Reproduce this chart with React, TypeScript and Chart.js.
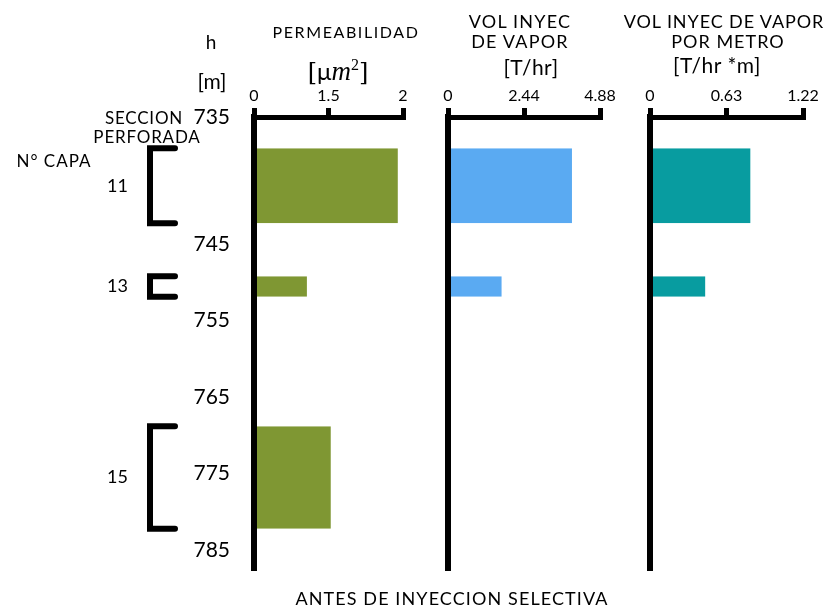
import React, { useEffect, useRef } from 'react';
import { Chart, registerables } from 'chart.js';

Chart.register(...registerables);

// ---------- data ----------
const layerNames = ['11', '13', '15'];
const layerTop = [732.5, 749.2, 768.8];
const layerBottom = [742.3, 751.9, 782.2];

const permeability = [1.93, 0.71, 1.03];
const vaporRate = [3.98, 1.72, 0];
const vaporPerMeter = [0.8, 0.44, 0];

const permMax = 2;
const vaporMax = 4.88;
const perMeterMax = 1.22;
const permTickLabels = ['0', '1.5', '2'];
const vaporTickLabels = ['0', '2.44', '4.88'];
const perMeterTickLabels = ['0', '0.63', '1.22'];

const depthMin = 728.4;
const depthMax = 787.6;
const depthTickLabels = ['735', '745', '755', '765', '775', '785'];

const FONT = 'Lato, "Open Sans", sans-serif';

const bracketPlugin = {
  id: 'layerBrackets',
  afterDraw(chart: any) {
    const y = chart.scales.y;
    const ctx = chart.ctx;
    ctx.save();
    ctx.strokeStyle = '#000';
    ctx.fillStyle = '#000';
    ctx.lineWidth = 6;
    ctx.lineCap = 'round';
    ctx.lineJoin = 'miter';
    layerNames.forEach((name, i) => {
      const t = y.getPixelForValue(layerTop[i]);
      const b = y.getPixelForValue(layerBottom[i]);
      ctx.beginPath();
      ctx.moveTo(175, t);
      ctx.lineTo(150, t);
      ctx.lineTo(150, b);
      ctx.lineTo(175, b);
      ctx.stroke();
      ctx.font = '18px ' + FONT;
      ctx.textAlign = 'right';
      ctx.textBaseline = 'middle';
      ctx.fillText(name, 128, (t + b) / 2);
    });
    ctx.restore();
  },
};

type PanelProps = {
  left: number;
  width: number;
  padLeft: number;
  padRight: number;
  yWidth: number;
  showDepth: boolean;
  values: number[];
  max: number;
  tickLabels: string[];
  color: string;
};

function Panel(p: PanelProps) {
  const ref = useRef<HTMLCanvasElement | null>(null);
  useEffect(() => {
    if (!ref.current) return;
    const datasets = layerNames
      .map((name, i) => ({
        label: name,
        data: [
          { x: p.values[i], y: layerTop[i] },
          { x: p.values[i], y: layerBottom[i] },
        ],
        fill: 'origin',
        backgroundColor: p.color,
        borderColor: 'rgba(0,0,0,0)',
        borderWidth: 0,
        pointRadius: 0,
        tension: 0,
        v: p.values[i],
      }))
      .filter((d) => d.v > 0);

    const chart = new Chart(ref.current, {
      type: 'line',
      data: { datasets: datasets as any },
      options: {
        animation: false,
        responsive: false,
        maintainAspectRatio: false,
        indexAxis: 'y',
        layout: { padding: { left: p.padLeft, right: p.padRight, top: 77, bottom: 37 } },
        plugins: { legend: { display: false }, tooltip: { enabled: false } },
        scales: {
          x: {
            type: 'linear',
            position: 'top',
            min: 0,
            max: p.max,
            afterBuildTicks: (s: any) => {
              s.ticks = [0, p.max / 2, p.max].map((v) => ({ value: v }));
            },
            afterFit: (s: any) => {
              s.height = 40;
            },
            ticks: {
              autoSkip: false,
              maxRotation: 0,
              padding: 3,
              color: '#000',
              font: { family: FONT, size: 16 },
              callback: (_v: any, i: number) => p.tickLabels[i],
            },
            grid: {
              display: true,
              drawOnChartArea: false,
              drawTicks: true,
              tickLength: 9,
              color: '#000',
              lineWidth: 5,
            },
            border: { display: true, color: '#000', width: 5, z: 1 },
          },
          y: {
            type: 'linear',
            reverse: true,
            min: depthMin,
            max: depthMax,
            afterBuildTicks: (s: any) => {
              s.ticks = depthTickLabels.map((l, i) => ({ value: i === 0 ? depthMin : Number(l) }));
            },
            afterFit: (s: any) => {
              s.width = p.yWidth;
            },
            ticks: {
              display: p.showDepth,
              autoSkip: false,
              padding: 16,
              color: '#000',
              font: { family: FONT, size: 21 },
              callback: (_v: any, i: number) => depthTickLabels[i],
            },
            grid: { display: false },
            border: { display: true, color: '#000', width: 6, z: 1 },
          },
        },
      } as any,
      plugins: p.showDepth ? [bracketPlugin] : [],
    });
    return () => chart.destroy();
  }, []);
  return (
    <canvas
      ref={ref}
      width={p.width}
      height={607}
      style={{ position: 'absolute', left: p.left, top: 0, width: p.width, height: 607 }}
    />
  );
}

function Label(props: { x: number; y: number; size: number; children: any; spacing?: number }) {
  return (
    <div
      style={{
        position: 'absolute',
        left: props.x,
        top: props.y,
        transform: 'translate(-50%, -50%)',
        whiteSpace: 'nowrap',
        fontFamily: FONT,
        fontSize: props.size,
        lineHeight: 1,
        letterSpacing: props.spacing ? props.spacing + 'px' : undefined,
        color: '#000',
      }}
    >
      {props.children}
    </div>
  );
}

export default function App() {
  return (
    <div
      style={{
        position: 'absolute',
        left: 0,
        top: 0,
        width: 833,
        height: 607,
        overflow: 'hidden',
        background: '#fff',
      }}
    >
      <Panel
        left={0}
        width={430}
        padLeft={0}
        padRight={27}
        yWidth={254}
        showDepth={true}
        values={permeability}
        max={permMax}
        tickLabels={permTickLabels}
        color="#7F9733"
      />
      <Panel
        left={430}
        width={200}
        padLeft={18}
        padRight={30}
        yWidth={0}
        showDepth={false}
        values={vaporRate}
        max={vaporMax}
        tickLabels={vaporTickLabels}
        color="#5AAAF2"
      />
      <Panel
        left={630}
        width={203}
        padLeft={20}
        padRight={30}
        yWidth={0}
        showDepth={false}
        values={vaporPerMeter}
        max={perMeterMax}
        tickLabels={perMeterTickLabels}
        color="#089CA0"
      />

      <Label x={211} y={41} size={19}>h</Label>
      <Label x={212} y={80} size={21}>[m]</Label>
      <Label x={144} y={117} size={17} spacing={0.8}>SECCION</Label>
      <Label x={147} y={136} size={17} spacing={0.8}>PERFORADA</Label>
      <Label x={54} y={160} size={17} spacing={1}>N° CAPA</Label>

      <Label x={346} y={32} size={16} spacing={1.6}>PERMEABILIDAD</Label>
      <Label x={338} y={71} size={24}>
        <span style={{ fontFamily: '"DejaVu Serif", serif' }}>[</span>
        <span>μ</span>
        <span style={{ fontFamily: '"Liberation Serif", serif', fontStyle: 'italic', fontSize: 27 }}>m</span>
        <span style={{ fontFamily: '"Liberation Serif", serif', fontSize: 16, verticalAlign: 10 }}>2</span>
        <span style={{ fontFamily: '"DejaVu Serif", serif' }}>]</span>
      </Label>

      <Label x={520} y={21} size={18} spacing={1.2}>VOL INYEC</Label>
      <Label x={520} y={41} size={18} spacing={1.2}>DE VAPOR</Label>
      <Label x={531} y={66} size={21} spacing={0.5}>[T/hr]</Label>

      <Label x={724} y={21} size={18} spacing={0.9}>VOL INYEC DE VAPOR</Label>
      <Label x={728} y={41} size={18} spacing={1}>POR METRO</Label>
      <Label x={717} y={64} size={21} spacing={0.5}>[T/hr *m]</Label>

      <Label x={452} y={598} size={18} spacing={1.1}>ANTES DE INYECCION SELECTIVA</Label>
    </div>
  );
}
